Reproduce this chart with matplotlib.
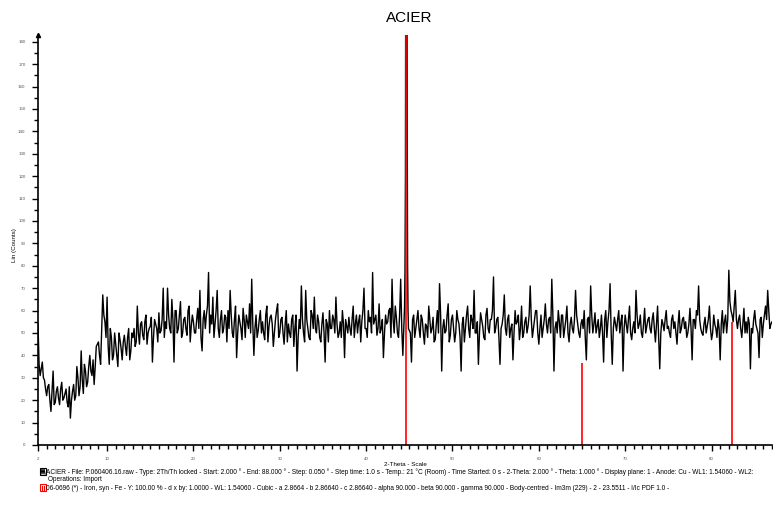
import numpy as np
import matplotlib
matplotlib.use("Agg")
import matplotlib.pyplot as plt
from matplotlib.patches import Rectangle
from matplotlib.lines import Line2D

plt.rcParams['font.family'] = ['Liberation Sans', 'DejaVu Sans']

# scan counts, every 0.25 deg from 2 to 87
counts = [
    54, 31, 37, 29,  22, 27, 15, 33,  19, 26, 18, 28,  21, 25, 17, 12,   # 2-5
    24, 20, 35, 22,  42, 23, 33, 28,  40, 31, 27, 44,  46, 36, 67, 55,   # 6-9
    66, 36, 48, 40,  45, 35, 47, 38,  49, 40, 52, 42,  48, 44, 62, 45,   # 10-13
    55, 47, 58, 50,  53, 37, 56, 52,  59, 51, 70, 55,  70, 52, 65, 37,   # 14-17
    60, 52, 64, 50,  57, 49, 62, 53,  55, 50, 61, 69,  42, 60, 58, 77,   # 18-21
    58, 66, 54, 69,  48, 60, 52, 57,  60, 69, 50, 56,  39, 58, 52, 61,   # 22-25
    48, 55, 63, 74,  40, 58, 51, 60,  55, 47, 62, 53,  58, 44, 56, 63,   # 26-29
    50, 57, 45, 60,  54, 48, 58, 52,  33, 56, 71, 50,  69, 52, 47, 58,   # 30-33
    66, 50, 55, 46,  59, 37, 54, 60,  52, 56, 66, 48,  55, 60, 39, 53,   # 34-37
    57, 49, 62, 54,  50, 58, 55, 70,  52, 60, 57, 77,  56, 49, 63, 52,   # 38-41
    39, 58, 55, 61,  74, 50, 57, 48,  74, 40, 58, 60,  55, 37, 58, 52,   # 42-45
    60, 48, 56, 45,  53, 62, 50, 57,  47, 60, 72, 33,  56, 51, 63, 49,   # 46-49
    58, 46, 60, 54,  33, 57, 52, 62,  48, 56, 69, 50,  36, 59, 53, 47,   # 50-53
    61, 50, 56, 75,  52, 57, 36, 54,  67, 49, 58, 52,  38, 60, 55, 47,   # 54-57
    62, 50, 57, 53,  71, 48, 56, 60,  45, 58, 52, 63,  50, 57, 74, 33,   # 58-61
    55, 60, 48, 58,  52, 62, 46, 57,  50, 69, 54, 48,  56, 60, 38, 57,   # 62-65
    71, 50, 59, 53,  48, 58, 37, 60,  55, 72, 36, 57,  51, 60, 55, 33,   # 66-69
    58, 50, 62, 47,  55, 69, 52, 58,  48, 61, 53, 57,  50, 59, 46, 62,   # 70-73
    34, 56, 51, 60,  53, 48, 58, 55,  45, 60, 52, 57,  55, 50, 61, 38,   # 74-77
    56, 60, 71, 52,  49, 57, 53, 62,  47, 58, 52, 56,  38, 60, 55, 50,   # 78-81
    78, 60, 55, 69,  52, 58, 48, 61,  55, 57, 34, 50,  60, 52, 39, 57,   # 82-85
    54, 62, 69, 52,  55,                                                 # 86-87
]
theta = np.arange(2.0, 87.001, 0.25)

# in-between readings (2.125, 2.375, ... 86.875)
counts_mid = [
    36, 34, 30, 25,  26, 20, 24, 18,  24, 21, 25, 20,  23, 19, 26, 20,   # 2-5
    27, 22, 30, 26,  29, 36, 26, 35,  33, 38, 35, 45,  40, 52, 58, 48,   # 6-9
    44, 52, 38, 50,  40, 50, 43, 46,  44, 48, 38, 50,  52, 46, 50, 54,   # 10-13
    49, 55, 45, 52,  57, 48, 54, 46,  50, 56, 48, 52,  58, 50, 56, 60,   # 14-17
    50, 58, 48, 56,  52, 60, 46, 58,  50, 56, 52, 48,  56, 52, 62, 50,   # 18-21
    54, 48, 60, 52,  56, 50, 58, 46,  52, 58, 48, 62,  50, 55, 47, 56,   # 22-25
    58, 52, 50, 54,  52, 48, 56, 50,  50, 58, 46, 57,  54, 50, 60, 48,   # 26-29
    56, 50, 54, 46,  50, 56, 44, 58,  48, 52, 56, 46,  56, 48, 60, 52,   # 30-33
    52, 58, 48, 54,  50, 56, 46, 52,  58, 50, 54, 50,  48, 54, 56, 50,   # 34-37
    52, 56, 48, 58,  55, 46, 60, 52,  48, 55, 50, 54,  58, 52, 50, 56,   # 38-41
    50, 54, 60, 48,  56, 62, 50, 58,  52, 50, 54, 50,  50, 56, 48, 56,   # 42-45
    52, 58, 50, 54,  48, 56, 52, 46,  54, 50, 58, 52,  50, 58, 46, 56,   # 46-49
    52, 50, 56, 48,  54, 46, 58, 52,  58, 52, 50, 55,  50, 56, 48, 58,   # 50-53
    52, 56, 60, 50,  56, 48, 52, 58,  52, 56, 48, 54,  50, 54, 58, 52,   # 54-57
    48, 55, 50, 58,  56, 52, 60, 50,  52, 48, 56, 54,  56, 50, 58, 52,   # 58-61
    50, 55, 58, 48,  56, 50, 54, 52,  56, 58, 50, 54,  52, 48, 56, 50,   # 62-65
    58, 54, 50, 56,  52, 50, 56, 48,  60, 50, 52, 54,  56, 50, 58, 52,   # 66-69
    54, 56, 50, 52,  50, 58, 54, 50,  54, 50, 56, 52,  56, 52, 54, 48,   # 70-73
    50, 54, 56, 52,  50, 56, 52, 50,  54, 50, 56, 52,  48, 54, 52, 56,   # 74-77
    52, 58, 56, 50,  54, 50, 56, 52,  50, 54, 48, 52,  54, 50, 58, 56,   # 78-81
    64, 58, 62, 56,  56, 52, 54, 50,  50, 54, 52, 56,  54, 50, 56, 48,   # 82-85
    58, 56, 60, 54,                                                      # 86
]
theta_mid = np.arange(2.125, 87.0, 0.25)

# the Fe (110) reflection, finer points
peak_theta = [44.40, 44.45, 44.50, 44.55, 44.60, 44.65, 44.70, 44.75, 44.80, 44.85, 44.90]
peak_counts = [56, 62, 78, 120, 260, 420, 300, 150, 80, 60, 52]

# reference pattern 06-0696 Iron, syn
ref_theta = [44.67, 65.02, 82.33]
ref_int = [100, 20, 30]

x = np.concatenate([theta, theta_mid])
y = np.concatenate([counts, counts_mid]).astype(float)
keep = (x < 44.3) | (x > 45.0)
x = np.concatenate([x[keep], peak_theta])
y = np.concatenate([y[keep], peak_counts])
order = np.argsort(x)
x, y = x[order], y[order]

fig = plt.figure(figsize=(7.73, 5.05), dpi=100)
ax = fig.add_axes([38 / 773, 60 / 505, 734 / 773, 410 / 505])

ymax = 183
ax.plot(x, y, color='black', lw=1.0)
ax.vlines(ref_theta, 0, np.array(ref_int) * ymax / 100, color='#ff0000', lw=1.2)

ax.set_xlim(2, 87)
ax.set_ylim(0, ymax)
for s in ['top', 'right']:
    ax.spines[s].set_visible(False)
ax.spines['left'].set_linewidth(1.2)
ax.spines['bottom'].set_linewidth(1.2)

ax.set_xticks([2, 10, 20, 30, 40, 50, 60, 70, 80])
ax.set_xticks(np.arange(2, 88, 1), minor=True)
ax.set_yticks(np.arange(0, 181, 10))
ax.set_yticks(np.arange(0, 181, 5), minor=True)
ax.tick_params(which='major', length=4, width=1, labelsize=3.2, labelcolor='#555555', pad=5)
ax.tick_params(which='minor', length=3, width=1)
ax.plot([0], [1.0], marker='^', color='black', ms=3, transform=ax.transAxes, clip_on=False)

fig.text(409 / 773, 1 - 18 / 505, 'ACIER', ha='center', va='center', fontsize=11)
fig.text(405 / 773, 1 - 465 / 505, '2-Theta - Scale', ha='center', va='center', fontsize=4.5)
fig.text(15 / 773, 1 - 245 / 505, 'Lin (Counts)', ha='center', va='center', rotation=90, fontsize=4.5)

line1 = ('ACIER - File: P.060406.16.raw - Type: 2Th/Th locked - Start: 2.000 \u00b0 - End: 88.000 \u00b0 - '
         'Step: 0.050 \u00b0 - Step time: 1.0 s - Temp.: 21 \u00b0C (Room) - Time Started: 0 s - '
         '2-Theta: 2.000 \u00b0 - Theta: 1.000 \u00b0 - Display plane: 1 - Anode: Cu - WL1: 1.54060 - WL2:')
line2 = 'Operations: Import'
line3 = ('06-0696 (*) - Iron, syn - Fe - Y: 100.00 % - d x by: 1.0000 - WL: 1.54060 - Cubic - '
         'a 2.8664 - b 2.86640 - c 2.86640 - alpha 90.000 - beta 90.000 - gamma 90.000 - '
         'Body-centred - Im3m (229) - 2 - 23.5511 - I/Ic PDF 1.0 -')
fs = 4.7
fig.text(46 / 773, 1 - 474 / 505, line1, va='baseline', fontsize=fs)
fig.text(48 / 773, 1 - 480.7 / 505, line2, va='baseline', fontsize=fs)
fig.text(46 / 773, 1 - 490 / 505, line3, va='baseline', fontsize=fs)

# little legend icons
W, H = 773, 505
fig.add_artist(Rectangle((40 / W, 1 - 475 / H), 6 / W, 7 / H, fill=False, ec='black', lw=0.8,
                         transform=fig.transFigure))
fig.add_artist(Line2D(np.array([41, 42, 43, 44, 45]) / W, 1 - np.array([474, 469, 474, 469, 474]) / H,
                      color='black', lw=0.8, transform=fig.transFigure))
fig.add_artist(Rectangle((40 / W, 1 - 491 / H), 6 / W, 7 / H, fill=False, ec='#ff0000', lw=0.8,
                         transform=fig.transFigure))
fig.add_artist(Line2D(np.array([42, 42]) / W, 1 - np.array([490, 486]) / H,
                      color='#ff0000', lw=0.8, transform=fig.transFigure))
fig.add_artist(Line2D(np.array([44, 44]) / W, 1 - np.array([490, 486]) / H,
                      color='#ff0000', lw=0.8, transform=fig.transFigure))

fig.savefig('out.png', dpi=100)
